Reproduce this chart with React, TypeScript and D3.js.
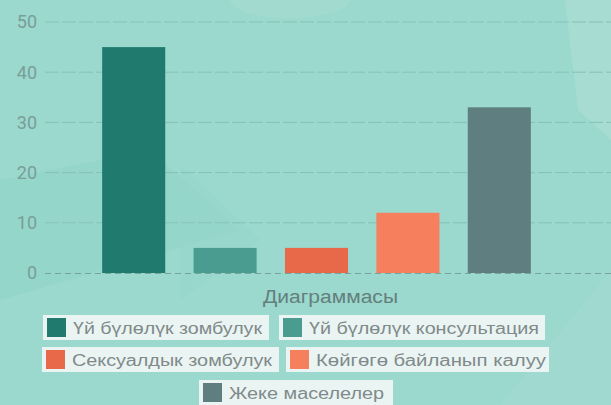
import React from "react";
import * as d3 from "d3";

const categoryTitle = "Диаграммасы";
const seriesNames = [
  "Үй бүлөлүк зомбулук",
  "Үй бүлөлүк консультация",
  "Сексуалдык зомбулук",
  "Көйгөгө байланып калуу",
  "Жеке маселелер",
];
const seriesValues = [45, 5, 5, 12, 33];
const seriesColors = ["#207a6e", "#4a9c90", "#e8684a", "#f67f5e", "#5e7e80"];
const yTicks = [0, 10, 20, 30, 40, 50];

// legend layout (box x, y, width, text length)
const legendBoxes = [
  { x: 43, y: 315, w: 226, tl: 189 },
  { x: 279, y: 315, w: 266, tl: 230 },
  { x: 42, y: 347, w: 237, tl: 200 },
  { x: 286, y: 347, w: 263, tl: 230 },
  { x: 199, y: 380, w: 194, tl: 155 },
];

export default function App() {
  const W = 611;
  const H = 405;
  const x = d3
    .scaleBand<number>()
    .domain(d3.range(seriesValues.length))
    .range([88, 545])
    .paddingInner(0.31)
    .paddingOuter(0.155);
  const y = d3.scaleLinear().domain([0, 50]).range([273, 22]);

  return (
    <svg
      width={W}
      height={H}
      style={{ position: "absolute", left: 0, top: 0, display: "block" }}
      fontFamily="Roboto, 'Liberation Sans', sans-serif"
    >
      <rect x={0} y={0} width={W} height={H} fill="#9bd8cd" />
      {/* background decoration */}
      <polygon points="565,0 611,0 611,140 578,110" fill="#a7ddd1" opacity={0.9} />
      <polygon points="0,180 150,150 240,230 0,300" fill="#8fd3ca" opacity={0.5} />
      <polygon points="180,165 260,240 180,300" fill="#95d5cc" opacity={0.5} />
      <polygon points="611,270 500,405 611,405" fill="#a3dbd0" opacity={0.6} />
      <ellipse cx={290} cy={0} rx={60} ry={18} fill="#a6dcd2" opacity={0.6} />

      {/* grid lines */}
      {yTicks.map((t) =>
        t === 0 ? null : (
          <line
            key={t}
            x1={45}
            x2={W}
            y1={y(t)}
            y2={y(t)}
            stroke="#86c1b7"
            strokeWidth={1}
            strokeDasharray="14 3"
          />
        )
      )}
      {/* y tick labels */}
      {yTicks.map((t) => (
        <text
          key={"l" + t}
          x={37}
          y={y(t)}
          dy="0.36em"
          textAnchor="end"
          fontSize={18}
          fill="#7a9e99"
        >
          {t}
        </text>
      ))}

      {/* bars */}
      {seriesValues.map((v, i) => (
        <rect
          key={i}
          x={x(i)}
          y={y(v)}
          width={x.bandwidth()}
          height={y(0) - y(v)}
          fill={seriesColors[i]}
        />
      ))}

      {/* zero line */}
      <line
        x1={45}
        x2={W}
        y1={y(0) + 0.5}
        y2={y(0) + 0.5}
        stroke="#76a29b"
        strokeWidth={1.2}
        strokeDasharray="6 4"
      />

      {/* category title */}
      <text
        x={263}
        y={303}
        fontSize={18}
        fill="#64807d"
        fontFamily="'Liberation Sans', Arial, sans-serif"
        textLength={135}
        lengthAdjust="spacingAndGlyphs"
      >
        {categoryTitle}
      </text>

      {/* legend */}
      {legendBoxes.map((b, i) => (
        <g key={"lg" + i}>
          <rect x={b.x} y={b.y} width={b.w} height={25} fill="#eef5f4" opacity={0.95} />
          <rect x={b.x + 4} y={b.y + 3} width={19} height={19} fill={seriesColors[i]} />
          <text
            x={b.x + 30}
            y={b.y + 19}
            fontSize={16}
            fill="#808a8a"
            fontFamily="'Liberation Sans', Arial, sans-serif"
            textLength={b.tl}
            lengthAdjust="spacingAndGlyphs"
          >
            {seriesNames[i]}
          </text>
        </g>
      ))}
    </svg>
  );
}
